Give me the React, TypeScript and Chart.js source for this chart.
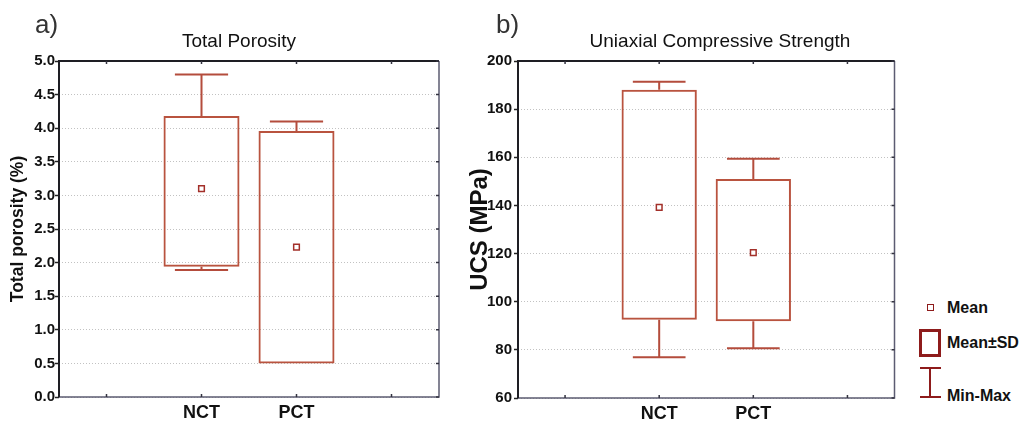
import { useEffect, useRef } from "react";
import { Chart, registerables } from "chart.js";

Chart.register(...registerables);

// ---------- data ----------
const categories = ["", "NCT", "PCT", ""];

const porosityMean = [null, 3.1, 2.23, null];
const porositySdLow = [null, 1.94, 0.5, null];
const porositySdHigh = [null, 4.18, 3.96, null];
const porosityMin = [null, 1.89, 0.5, null];
const porosityMax = [null, 4.8, 4.1, null];
const porosityAxis = [0, 5, 0.5]; // min, max, step

const ucsMean = [null, 139.2, 120.4, null];
const ucsSdLow = [null, 92.5, 91.9, null];
const ucsSdHigh = [null, 188.1, 151.0, null];
const ucsMin = [null, 76.9, 80.7, null];
const ucsMax = [null, 191.4, 159.4, null];
const ucsAxis = [60, 200, 20]; // min, max, step

const FONT = '"Liberation Sans", Arial, Helvetica, sans-serif';
const BOX_COLOR = "#b9533f";
const WHISKER_COLOR = "#b44c3c";
const MEAN_COLOR = "#a3302a";
const LEGEND_COLOR = "#8e1b1b";

function whiskerPlugin(mins: any[], maxs: any[], lows: any[], highs: any[]) {
  return {
    id: "whiskers",
    afterDatasetsDraw(chart: any) {
      const { ctx } = chart;
      const x = chart.scales.x;
      const y = chart.scales.y;
      const slot = x.getPixelForValue(1) - x.getPixelForValue(0);
      const half = slot * 0.28;
      ctx.save();
      ctx.strokeStyle = WHISKER_COLOR;
      ctx.lineWidth = 2;
      for (let i = 0; i < mins.length; i++) {
        if (mins[i] == null) continue;
        const px = x.getPixelForValue(i);
        const yMin = y.getPixelForValue(mins[i]);
        const yMax = y.getPixelForValue(maxs[i]);
        const yLo = y.getPixelForValue(lows[i]);
        const yHi = y.getPixelForValue(highs[i]);
        ctx.beginPath();
        if (mins[i] < lows[i]) {
          ctx.moveTo(px, yLo);
          ctx.lineTo(px, yMin);
          ctx.moveTo(px - half, yMin);
          ctx.lineTo(px + half, yMin);
        }
        if (maxs[i] > highs[i]) {
          ctx.moveTo(px, yHi);
          ctx.lineTo(px, yMax);
          ctx.moveTo(px - half, yMax);
          ctx.lineTo(px + half, yMax);
        }
        ctx.stroke();
      }
      ctx.restore();
    },
  };
}

const framePlugin = {
  id: "frame",
  afterDraw(chart: any) {
    const { ctx, chartArea } = chart;
    const { left, right, top, bottom } = chartArea;
    const x = chart.scales.x;
    const y = chart.scales.y;
    ctx.save();
    ctx.lineWidth = 1.5;
    ctx.strokeStyle = "#5c5c72";
    ctx.beginPath();
    ctx.moveTo(right, top);
    ctx.lineTo(right, bottom);
    ctx.lineTo(left, bottom);
    ctx.stroke();
    ctx.lineWidth = 2;
    ctx.strokeStyle = "#1e1e24";
    ctx.beginPath();
    ctx.moveTo(left, bottom);
    ctx.lineTo(left, top);
    ctx.lineTo(right, top);
    ctx.stroke();
    // small inner tick marks
    ctx.lineWidth = 1.5;
    ctx.strokeStyle = "#333340";
    ctx.beginPath();
    for (let i = 0; i < categories.length; i++) {
      const px = x.getPixelForValue(i);
      ctx.moveTo(px, top);
      ctx.lineTo(px, top + 3);
      ctx.moveTo(px, bottom);
      ctx.lineTo(px, bottom - 3);
    }
    for (const t of y.ticks) {
      const py = y.getPixelForValue(t.value);
      ctx.moveTo(right, py);
      ctx.lineTo(right - 3, py);
    }
    ctx.stroke();
    ctx.restore();
  },
};

function makeConfig(opts: {
  mean: any[];
  lo: any[];
  hi: any[];
  min: any[];
  max: any[];
  axis: number[];
  yTitle: string;
  yTitleSize: number;
  yTitlePad: number;
  yWidth: number;
  tickPad: number;
  xHeight: number;
  padRight: number;
  decimals: number;
}): any {
  return {
    type: "bar",
    data: {
      labels: categories,
      datasets: [
        {
          type: "line",
          data: opts.mean,
          showLine: false,
          pointStyle: "rect",
          pointRadius: 4,
          pointBorderWidth: 1.5,
          pointBorderColor: MEAN_COLOR,
          pointBackgroundColor: "#ffffff",
          order: 0,
        },
        {
          type: "bar",
          data: opts.lo.map((v, i) => (v == null ? null : [v, opts.hi[i]])),
          backgroundColor: "rgba(255,255,255,0)",
          borderColor: BOX_COLOR,
          borderWidth: 2,
          borderSkipped: false,
          barPercentage: 0.8,
          categoryPercentage: 1.0,
          order: 1,
        },
      ],
    },
    options: {
      responsive: false,
      animation: false,
      layout: { padding: { top: 61, right: opts.padRight, left: 0, bottom: 0 } },
      plugins: {
        legend: { display: false },
        tooltip: { enabled: false },
        title: { display: false },
      },
      scales: {
        x: {
          type: "category",
          offset: true,
          grid: { display: false },
          border: { display: false },
          ticks: {
            color: "#111111",
            font: { family: FONT, size: 18, weight: "bold" },
            padding: -3,
            autoSkip: false,
            maxRotation: 0,
          },
          afterFit: (s: any) => {
            s.height = opts.xHeight;
          },
        },
        y: {
          min: opts.axis[0],
          max: opts.axis[1],
          border: { display: false, dash: [1, 2] },
          grid: {
            color: "#c2c2c2",
            lineWidth: 1,
            drawTicks: true,
            tickLength: 4,
            tickColor: "#222222",
            tickWidth: 1.5,
          },
          ticks: {
            stepSize: opts.axis[2],
            color: "#111111",
            font: { family: FONT, size: 15, weight: "bold" },
            padding: opts.tickPad,
            callback: (v: any) => Number(v).toFixed(opts.decimals),
          },
          title: {
            display: true,
            text: opts.yTitle,
            color: "#111111",
            font: { family: FONT, size: opts.yTitleSize, weight: "bold" },
            padding: { top: opts.yTitlePad, bottom: 0 },
          },
          afterFit: (s: any) => {
            s.width = opts.yWidth;
          },
        },
      },
    },
    plugins: [whiskerPlugin(opts.min, opts.max, opts.lo, opts.hi), framePlugin],
  };
}

export default function App() {
  const refA = useRef<HTMLCanvasElement | null>(null);
  const refB = useRef<HTMLCanvasElement | null>(null);

  useEffect(() => {
    const a = new Chart(
      refA.current as HTMLCanvasElement,
      makeConfig({
        mean: porosityMean,
        lo: porositySdLow,
        hi: porositySdHigh,
        min: porosityMin,
        max: porosityMax,
        axis: porosityAxis,
        yTitle: "Total porosity (%)",
        yTitleSize: 17.5,
        yTitlePad: 8,
        yWidth: 59,
        tickPad: 0,
        xHeight: 26,
        padRight: 6,
        decimals: 1,
      })
    );
    const b = new Chart(
      refB.current as HTMLCanvasElement,
      makeConfig({
        mean: ucsMean,
        lo: ucsSdLow,
        hi: ucsSdHigh,
        min: ucsMin,
        max: ucsMax,
        axis: ucsAxis,
        yTitle: "UCS (MPa)",
        yTitleSize: 24,
        yTitlePad: 21,
        yWidth: 73,
        tickPad: 2,
        xHeight: 25,
        padRight: 3,
        decimals: 0,
      })
    );
    return () => {
      a.destroy();
      b.destroy();
    };
  }, []);

  const text: React.CSSProperties = {
    position: "absolute",
    fontFamily: FONT,
    color: "#111",
    whiteSpace: "nowrap",
  };

  return (
    <div
      style={{
        position: "absolute",
        left: 0,
        top: 0,
        width: 1025,
        height: 423,
        background: "#ffffff",
        overflow: "hidden",
      }}
    >
      <canvas
        ref={refA}
        width={445}
        height={423}
        style={{ position: "absolute", left: 0, top: 0 }}
      />
      <canvas
        ref={refB}
        width={455}
        height={423}
        style={{ position: "absolute", left: 445, top: 0 }}
      />
      <div style={{ ...text, left: 35, top: 9, fontSize: 26, lineHeight: "30px", color: "#333" }}>a)</div>
      <div style={{ ...text, left: 496, top: 9, fontSize: 26, lineHeight: "30px", color: "#333" }}>b)</div>
      <div
        style={{ ...text, left: 239, top: 30, fontSize: 19, lineHeight: "22px", transform: "translateX(-50%)" }}
      >
        Total Porosity
      </div>
      <div
        style={{ ...text, left: 720, top: 30, fontSize: 19, lineHeight: "22px", transform: "translateX(-50%)" }}
      >
        Uniaxial Compressive Strength
      </div>

      {/* legend */}
      <div
        style={{
          position: "absolute",
          left: 927,
          top: 304,
          width: 7,
          height: 7,
          boxSizing: "border-box",
          border: `1.5px solid ${LEGEND_COLOR}`,
        }}
      />
      <div style={{ ...text, left: 947, top: 298, fontSize: 16, lineHeight: "20px", fontWeight: "bold" }}>Mean</div>
      <div
        style={{
          position: "absolute",
          left: 919,
          top: 329,
          width: 22,
          height: 28,
          boxSizing: "border-box",
          border: `3px solid ${LEGEND_COLOR}`,
        }}
      />
      <div style={{ ...text, left: 947, top: 333, fontSize: 16, lineHeight: "20px", fontWeight: "bold" }}>Mean±SD</div>
      <div style={{ position: "absolute", left: 920, top: 367, width: 21, height: 2, background: LEGEND_COLOR }} />
      <div style={{ position: "absolute", left: 929, top: 367, width: 2, height: 30, background: LEGEND_COLOR }} />
      <div style={{ position: "absolute", left: 920, top: 396, width: 21, height: 2, background: LEGEND_COLOR }} />
      <div style={{ ...text, left: 947, top: 386, fontSize: 16, lineHeight: "20px", fontWeight: "bold" }}>Min-Max</div>
    </div>
  );
}
